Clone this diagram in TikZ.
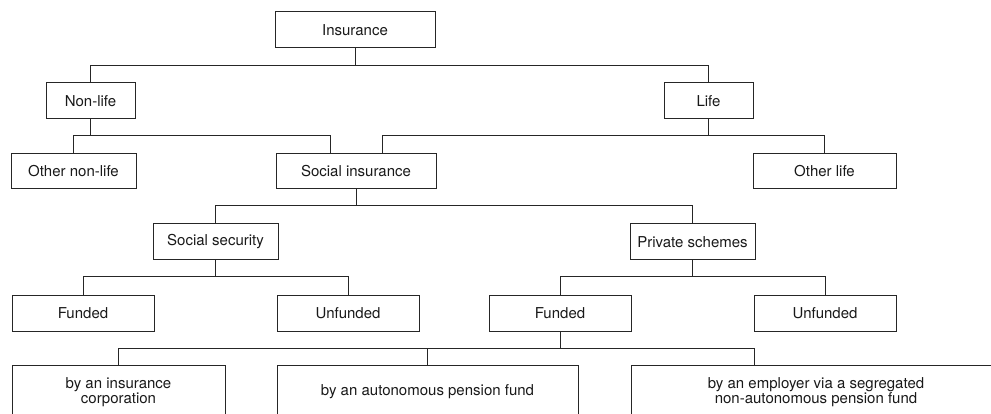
\documentclass[tikz,border=0pt]{standalone}
\usepackage{fontspec}
\setmainfont{TeX Gyre Heros}
\usetikzlibrary{calc}
\begin{document}
\begin{tikzpicture}[x=1pt,y=-1pt,
  box/.style={draw=black!85, line width=1pt, inner sep=0pt, minimum height=36pt,
    align=center, font=\fontsize{15}{15}\selectfont, text=black!90},
  conn/.style={draw=black!85, line width=1pt}]
\useasboundingbox (0,0) rectangle (991,414);
\begin{scope}
\clip (0,0) rectangle (991,414);
\node[box, minimum width=160pt] (ins) at (355,30) {Insurance};
\node[box, minimum width=89pt] (nonlife) at (90.5,101) {Non-life};
\node[box, minimum width=89pt] (life) at (708.5,101) {Life};
\node[box, minimum width=125pt, minimum height=35pt] (othernl) at (73.5,171.5) {Other non-life};
\node[box, minimum width=160pt, minimum height=35pt] (socins) at (356,171.5) {Social insurance};
\node[box, minimum width=143pt, minimum height=35pt] (otherlife) at (824.5,171.5) {Other life};
\node[box, minimum width=125pt] (socsec) at (215.5,242) {Social security};
\node[box, minimum width=125pt] (priv) at (692.5,242) {Private schemes};
\node[box, minimum width=142pt] (fund1) at (83,313) {Funded};
\node[box, minimum width=142pt] (unf1) at (348,313) {Unfunded};
\node[box, minimum width=142pt] (fund2) at (560,313) {Funded};
\node[box, minimum width=142pt] (unf2) at (825,313) {Unfunded};
\node[box, minimum width=213pt, minimum height=54pt] (b1) at (118.5,392) {by an insurance\\corporation};
\node[box, minimum width=301pt, minimum height=54pt] (b2) at (427.5,392) {by an autonomous pension fund};
\node[box, minimum width=370pt, minimum height=54pt] (b3) at (816,392) {by an employer via a segregated\\non-autonomous pension fund};
% connectors
\draw[conn] (ins.south) -- (ins.south |- 0,66);
\draw[conn] (nonlife.north) -- (nonlife.north |- 0,66) -| (life.north);
\draw[conn] (nonlife.south) -- (nonlife.south |- 0,136);
\draw[conn] (othernl.north) -- (othernl.north |- 0,136) -| ($(socins.north)+(-26,0)$);
\draw[conn] (life.south) -- (life.south |- 0,136);
\draw[conn] ($(socins.north)+(26,0)$) -- ($(socins.north)+(26,-18)$) -| (otherlife.north);
\draw[conn] (socins.south) -- (socins.south |- 0,206);
\draw[conn] (socsec.north) -- (socsec.north |- 0,206) -| (priv.north);
\draw[conn] (socsec.south) -- (socsec.south |- 0,277);
\draw[conn] (fund1.north) -- (fund1.north |- 0,277) -| (unf1.north);
\draw[conn] (priv.south) -- (priv.south |- 0,277);
\draw[conn] (fund2.north) -- (fund2.north |- 0,277) -| (unf2.north);
\draw[conn] (fund2.south) -- (fund2.south |- 0,348);
\draw[conn] (b1.north) -- (b1.north |- 0,348) -| ($(b3.north west)+(124,0)$);
\draw[conn] (b2.north) -- (b2.north |- 0,348);
\end{scope}
\end{tikzpicture}
\end{document}
